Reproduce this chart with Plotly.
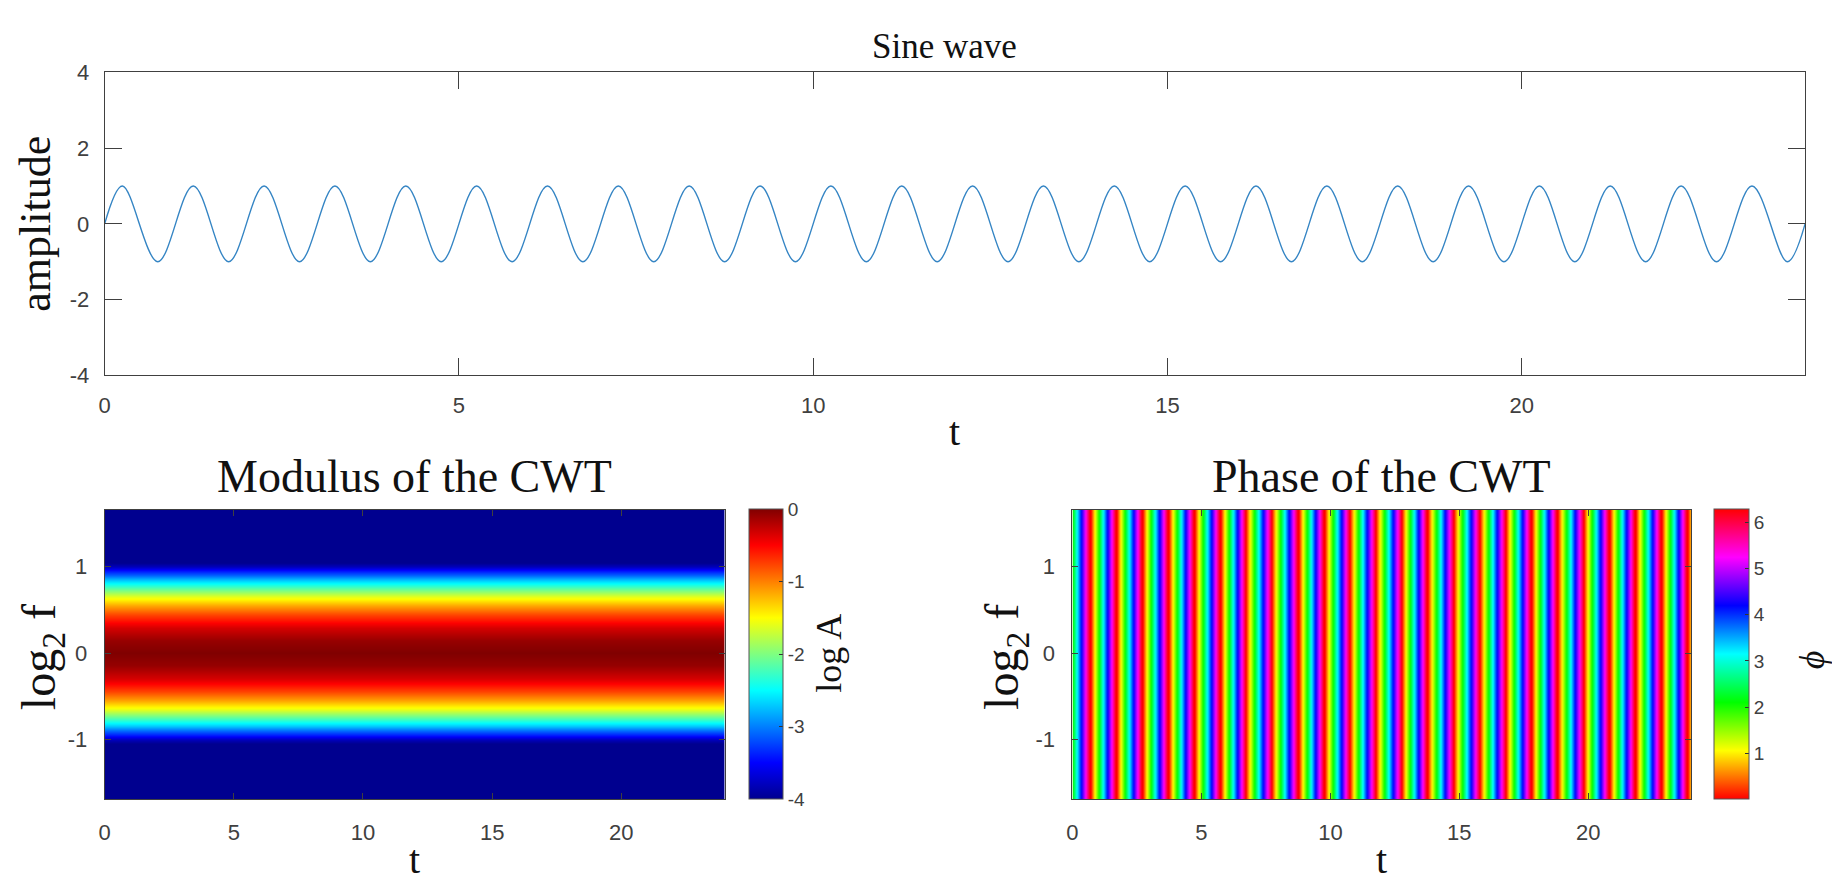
import math
import plotly.graph_objects as go

W, H = 1832, 885

# ---- Sine wave: crests, troughs and end points of the trace ----
crest_t = [0.25, 1.25, 2.25, 3.25, 4.25, 5.25, 6.25, 7.25, 8.25, 9.25, 10.25, 11.25,
           12.25, 13.25, 14.25, 15.25, 16.25, 17.25, 18.25, 19.25, 20.25, 21.25, 22.25, 23.25]
trough_t = [0.75, 1.75, 2.75, 3.75, 4.75, 5.75, 6.75, 7.75, 8.75, 9.75, 10.75, 11.75,
            12.75, 13.75, 14.75, 15.75, 16.75, 17.75, 18.75, 19.75, 20.75, 21.75, 22.75, 23.75]
crest_amp = 1.0
trough_amp = -1.0
start_pt = (0.0, 0.0)
end_pt = (24.0, 0.0)

# ---- Modulus of the CWT: log A across log2 f (constant in t) ----
log2f_levels = [-1.8, -1.05, -1.0, -0.95, -0.9, -0.85, -0.75, -0.65, -0.55, -0.45, -0.3, -0.15,
                0.0, 0.15, 0.3, 0.45, 0.55, 0.65, 0.75, 0.85, 0.9, 0.95, 1.0, 1.05, 1.8]
logA_levels = [-4.0, -4.0, -3.8, -3.43, -3.08, -2.75, -2.14, -1.61, -1.15, -0.77, -0.34, -0.09,
               0.0, -0.09, -0.34, -0.77, -1.15, -1.61, -2.14, -2.75, -3.08, -3.43, -3.8, -4.0, -4.0]
modulus_t = [0.0, 24.0]

# ---- Phase of the CWT: phase at both ends and the times where it wraps 2π -> 0 ----
phase_start = 2.1
phase_end = 1.0
wrap_t = [0.67, 1.68, 2.68, 3.69, 4.70, 5.71, 6.71, 7.72, 8.73, 9.74, 10.74, 11.75,
          12.76, 13.76, 14.77, 15.78, 16.79, 17.79, 18.80, 19.81, 20.81, 21.82, 22.83, 23.84]
phase_rows = [-1.8, 1.8]

# tick labels
top_xticks = [0, 5, 10, 15, 20]
top_yticks = [-4, -2, 0, 2, 4]
cwt_yticks = [-1, 0, 1]
mod_cbar_ticks = [-4, -3, -2, -1, 0]
phase_cbar_ticks = [1, 2, 3, 4, 5, 6]

TWO_PI = 2 * math.pi

jet = [[0.0, "rgb(0,0,143)"], [0.125, "rgb(0,0,255)"], [0.375, "rgb(0,255,255)"],
       [0.625, "rgb(255,255,0)"], [0.875, "rgb(255,0,0)"], [1.0, "rgb(128,0,0)"]]
hsv = [[0.0, "rgb(255,0,0)"], [1 / 6, "rgb(255,255,0)"], [2 / 6, "rgb(0,255,0)"],
       [3 / 6, "rgb(0,255,255)"], [4 / 6, "rgb(0,0,255)"], [5 / 6, "rgb(255,0,255)"],
       [1.0, "rgb(255,0,0)"]]


def px_x(x):
    return x / W


def px_y(y):
    return 1 - y / H


def lab(v):
    return str(v)


# sine trace points (smoothed by plotly's spline)
pts = [start_pt] + [(t, crest_amp) for t in crest_t] + [(t, trough_amp) for t in trough_t] + [end_pt]
pts.sort()
sine_t = [p[0] for p in pts]
sine_y = [p[1] for p in pts]

# phase knots: each wrap is a jump from 2π down to 0
phase_x = [0.0]
phase_z = [phase_start]
for w in wrap_t:
    phase_x += [w - 0.015, w + 0.015]
    phase_z += [TWO_PI, 0.0]
phase_x.append(24.0)
phase_z.append(phase_end)

AX = "#404040"
SANS = "Liberation Sans, Arial, sans-serif"
TICKFONT = dict(family=SANS, size=22, color="#404040")
TICKFONT_S = dict(family=SANS, size=22, color="#404040")
CBFONT = dict(family=SANS, size=19, color="#404040")
SERIF = "Liberation Serif, Times New Roman, serif"

CB_TOP, CB_BOT = 512, 810

fig = go.Figure()

fig.add_trace(go.Scatter(
    x=sine_t, y=sine_y, mode="lines",
    line=dict(color="#3585c4", width=1.4, shape="spline", smoothing=1.0),
    xaxis="x", yaxis="y", showlegend=False, hoverinfo="skip"))

fig.add_trace(go.Heatmap(
    x=modulus_t, y=log2f_levels, z=[[v, v] for v in logA_levels],
    colorscale=jet, zmin=-4, zmax=0, zsmooth="best",
    xaxis="x2", yaxis="y2", hoverinfo="skip",
    colorbar=dict(x=px_x(745), xanchor="left", xpad=0, ypad=0,
                  thickness=34, thicknessmode="pixels",
                  len=(CB_BOT - CB_TOP) / H, lenmode="fraction",
                  y=px_y((CB_TOP + CB_BOT) / 2), yanchor="middle",
                  outlinewidth=1, outlinecolor="#555",
                  tickvals=mod_cbar_ticks, ticktext=[lab(v) for v in mod_cbar_ticks],
                  ticks="inside", ticklen=4, tickcolor="#333", tickfont=CBFONT)))

fig.add_trace(go.Heatmap(
    x=phase_x, y=phase_rows, z=[phase_z, phase_z],
    colorscale=hsv, zmin=0, zmax=TWO_PI, zsmooth="best",
    xaxis="x3", yaxis="y3", hoverinfo="skip",
    colorbar=dict(x=px_x(1714), xanchor="left", xpad=0, ypad=0,
                  thickness=35, thicknessmode="pixels",
                  len=(CB_BOT - CB_TOP) / H, lenmode="fraction",
                  y=px_y((CB_TOP + CB_BOT) / 2), yanchor="middle",
                  outlinewidth=1, outlinecolor="#555",
                  tickvals=phase_cbar_ticks, ticktext=[lab(v) for v in phase_cbar_ticks],
                  ticks="inside", ticklen=4, tickcolor="#333", tickfont=CBFONT)))


def axis(domain, rng, tickvals, ticklen, font, anchor, standoff):
    return dict(domain=domain, range=rng, tickvals=tickvals,
                ticktext=[lab(v) for v in tickvals],
                ticks="inside", ticklen=ticklen, tickcolor=AX, tickwidth=1,
                showline=True, linecolor=AX, linewidth=1, mirror="ticks",
                showgrid=False, zeroline=False, tickfont=font, anchor=anchor,
                ticklabelstandoff=standoff)


layout = dict(
    width=W, height=H, margin=dict(l=0, r=0, t=0, b=0),
    paper_bgcolor="white", plot_bgcolor="white", showlegend=False,
    xaxis=axis([px_x(99), px_x(1805)], [0, 24], top_xticks, 17, TICKFONT, "y", 10),
    yaxis=axis([px_y(374), px_y(62)], [-4, 4], top_yticks, 17, TICKFONT, "x", 10),
    xaxis2=axis([px_x(99), px_x(721)], [0, 24], top_xticks, 6, TICKFONT_S, "y2", 13),
    yaxis2=axis([px_y(CB_BOT), px_y(CB_TOP)], [-1.69, 1.66], cwt_yticks, 6, TICKFONT_S, "x2", 12),
    xaxis3=axis([px_x(1070), px_x(1691)], [0, 24], top_xticks, 6, TICKFONT_S, "y3", 13),
    yaxis3=axis([px_y(CB_BOT), px_y(CB_TOP)], [-1.69, 1.66], cwt_yticks, 6, TICKFONT_S, "x3", 12),
)
fig.update_layout(**layout)

texts = [
    ("Sine wave", 942, 35, 35, 0),
    ("amplitude", 30, 218, 44, -90),
    ("t", 952, 432, 40, 0),
    ("Modulus of the CWT", 410, 478, 46, 0),
    ("t", 410, 872, 40, 0),
    ("log<sub>2</sub> f", 36, 664, 48, -90),
    ("log A", 826, 660, 36, -90),
    ("Phase of the CWT", 1380, 478, 46, 0),
    ("t", 1380, 872, 40, 0),
    ("log<sub>2</sub> f", 1003, 664, 48, -90),
    ("<i>ϕ</i>", 1812, 667, 36, -90),
]
for txt, x, y, size, ang in texts:
    fig.add_annotation(text=txt, x=px_x(x), y=px_y(y), xref="paper", yref="paper",
                       xanchor="center", yanchor="middle", showarrow=False,
                       textangle=ang, font=dict(family=SERIF, size=size, color="#111"))

fig.write_html("out.html")
